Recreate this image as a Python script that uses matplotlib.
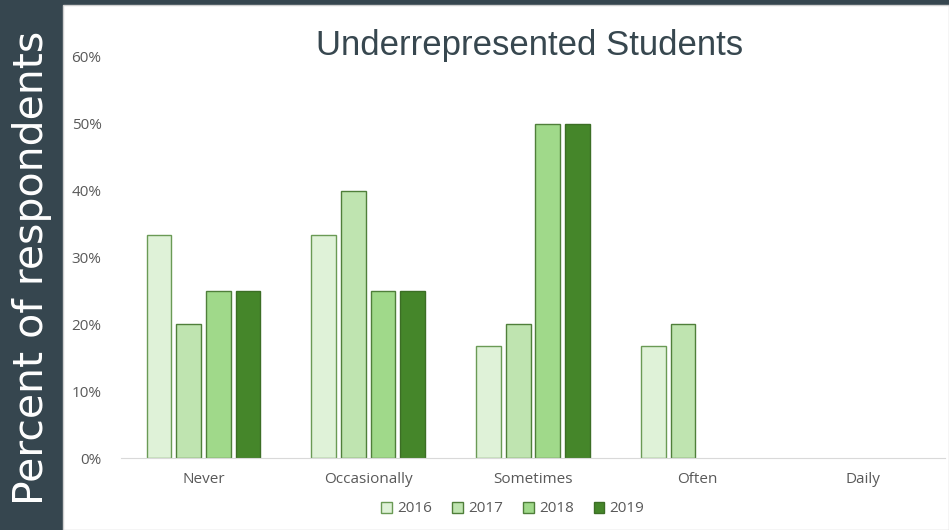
import matplotlib
matplotlib.use("Agg")
import matplotlib.pyplot as plt
from matplotlib.patches import Rectangle
import numpy as np

categories = ["Never", "Occasionally", "Sometimes", "Often", "Daily"]
years = ["2016", "2017", "2018", "2019"]
share_2016 = [0.333, 0.333, 0.167, 0.167, 0.0]
share_2017 = [0.20, 0.40, 0.20, 0.20, 0.0]
share_2018 = [0.25, 0.25, 0.50, 0.0, 0.0]
share_2019 = [0.25, 0.25, 0.50, 0.0, 0.0]
series = [share_2016, share_2017, share_2018, share_2019]

fills = ["#dff2d8", "#bfe4b0", "#a0d98a", "#45862a"]
edges = ["#6a9a55", "#4f7f3a", "#4f7f3a", "#3c6e25"]
slate = "#36464f"

fig = plt.figure(figsize=(9.49, 5.30), dpi=100, facecolor=slate)

# white panel to the right of the slate strip
fig.patches.append(Rectangle((63 / 949, 0), 1 - 63 / 949, 1 - 5 / 530,
                             transform=fig.transFigure, facecolor="white",
                             edgecolor="#d0d0d0", linewidth=1, zorder=-5))

ax = fig.add_axes([121 / 949, 72 / 530, 824 / 949, 401 / 530])
ax.set_facecolor("none")

x = np.arange(len(categories))
step, width = 0.18, 0.15
for i, (vals, yr) in enumerate(zip(series, years)):
    # empty categories get no outline, so nothing shows on the baseline
    lw = [1.0 if v > 0 else 0 for v in vals]
    ax.bar(x + (i - 1.5) * step, vals, width, color=fills[i],
           edgecolor=edges[i], linewidth=lw, label=yr)

ax.set_xlim(-0.5, len(categories) - 0.5)
ax.set_ylim(0, 0.6)
ticks = np.arange(0, 0.61, 0.1)
ax.set_yticks(ticks)
ax.set_yticklabels([f"{int(round(v * 100))}%" for v in ticks])
ax.set_xticks(x)
ax.set_xticklabels(categories)
ax.tick_params(length=0, colors="#595959", labelsize=11)
ax.tick_params(axis="y", pad=14)
ax.tick_params(axis="x", pad=10)
for t in ax.get_xticklabels() + ax.get_yticklabels():
    t.set_fontfamily("Open Sans")

for side in ["top", "right", "left"]:
    ax.spines[side].set_visible(False)
ax.spines["bottom"].set_color("#d9d9d9")

fig.text(530 / 949, 1 - 45 / 530, "Underrepresented Students",
         ha="center", va="center", fontsize=25, color="#37474f",
         fontfamily="Liberation Sans")

fig.text(32 / 949, 1 - 268 / 530, "Percent of respondents", rotation=90,
         ha="center", va="center", fontsize=29.5, color="white",
         fontfamily="DejaVu Sans")

leg = fig.legend(loc="center", bbox_to_anchor=(513 / 949, 1 - 509 / 530),
                 ncol=4, frameon=False, handlelength=0.7, handleheight=0.7,
                 handletextpad=0.35, columnspacing=1.3,
                 prop={"family": "Open Sans", "size": 11})
for t in leg.get_texts():
    t.set_color("#595959")

fig.savefig("out.png", dpi=100, facecolor=slate)
